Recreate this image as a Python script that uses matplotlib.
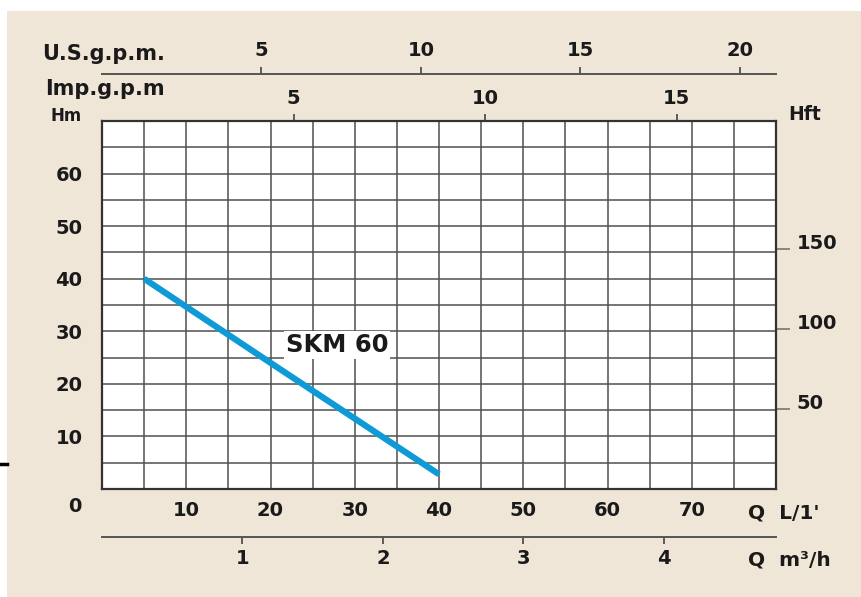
import matplotlib
matplotlib.use("Agg")
import matplotlib.pyplot as plt
from matplotlib.patches import Rectangle
from matplotlib.lines import Line2D
import numpy as np

# ---- data ----
flow_lpm = [5, 20, 30, 40]          # Q L/min
head_m = [40, 24.0, 13.4, 2.8]      # H m
curve_label = "SKM 60"

x_ticks = [10, 20, 30, 40, 50, 60, 70]
y_ticks = [10, 20, 30, 40, 50, 60]
us_gpm_ticks = [5, 10, 15, 20]
imp_gpm_ticks = [5, 10, 15]
m3h_ticks = [1, 2, 3, 4]
hft_ticks = [50, 100, 150]

US_GAL = 3.785
IMP_GAL = 4.546
M_TO_FT = 3.281

BG = "#F0E6D7"
INK = "#1a1a1a"
FONT = "DejaVu Sans"

fig = plt.figure(figsize=(8.61, 5.97), dpi=100)
fig.patch.set_facecolor("white")
fig.add_artist(Rectangle((7 / 861, 0), 1 - 7 / 861, 1 - 11 / 597,
                         transform=fig.transFigure, facecolor=BG,
                         edgecolor="none", zorder=-10))
# small black dash at left edge
fig.add_artist(Line2D([0, 7 / 861], [1 - 464 / 597] * 2, transform=fig.transFigure,
                      color="black", lw=2.5))

W, H = 861, 597
left, right, top, bottom = 102, 776, 121, 489
ax = fig.add_axes([left / W, 1 - bottom / H, (right - left) / W, (bottom - top) / H])
ax.set_facecolor("white")
ax.set_xlim(0, 80)
ax.set_ylim(0, 70)

ax.set_xticks(np.arange(0, 81, 5), minor=True)
ax.set_yticks(np.arange(0, 71, 5), minor=True)
ax.set_xticks(x_ticks)
ax.set_yticks(y_ticks)
ax.grid(True, which="both", color="#505050", lw=1.1)
ax.tick_params(which="both", length=0)
ax.tick_params(axis="x", pad=9, labelsize=14, labelcolor=INK)
ax.tick_params(axis="y", pad=14, labelsize=14, labelcolor=INK)
for lab in ax.get_xticklabels() + ax.get_yticklabels():
    lab.set_fontweight("bold")
    lab.set_family(FONT)
for s in ax.spines.values():
    s.set_color("#333333")
    s.set_linewidth(1.6)

ax.plot(flow_lpm, head_m, color="#0E9AD6", lw=4.5, solid_capstyle="butt", zorder=3)
ax.text(27.9, 27.4, curve_label, fontsize=17.5, fontweight="bold", family=FONT,
        color=INK, ha="center", va="center", zorder=4,
        bbox=dict(facecolor="white", edgecolor="none", pad=1.5))

# origin label
ax.text(-2.4, -3.4, "0", fontsize=14, fontweight="bold", family=FONT, color=INK,
        ha="right", va="center", clip_on=False)

axh = bottom - top
# Imp gpm axis (top of plot)
imp = ax.secondary_xaxis("top", functions=(lambda q: q / IMP_GAL, lambda g: g * IMP_GAL))
imp.set_xticks(imp_gpm_ticks)
imp.tick_params(length=5, width=1.2, color="#444444", pad=4, labelsize=14, labelcolor=INK)
for lab in imp.get_xticklabels():
    lab.set_fontweight("bold")
imp.spines["top"].set_visible(False)

# US gpm axis
us = ax.secondary_xaxis((bottom - 74) / axh,
                        functions=(lambda q: q / US_GAL, lambda g: g * US_GAL))
us.set_xticks(us_gpm_ticks)
us.tick_params(length=5, width=1.2, color="#444444", pad=5, labelsize=14, labelcolor=INK)
for lab in us.get_xticklabels():
    lab.set_fontweight("bold")
us.spines["top"].set_color("#555555")
us.spines["top"].set_linewidth(1.4)

# m3/h axis
m3 = ax.secondary_xaxis((bottom - 537) / axh,
                        functions=(lambda q: q * 60 / 1000, lambda v: v * 1000 / 60))
m3.set_xticks(m3h_ticks)
m3.tick_params(length=5, width=1.2, color="#444444", pad=4, labelsize=14, labelcolor=INK)
for lab in m3.get_xticklabels():
    lab.set_fontweight("bold")
m3.spines["bottom"].set_color("#555555")
m3.spines["bottom"].set_linewidth(1.4)

# Hft axis
hf = ax.secondary_yaxis("right", functions=(lambda m: m * M_TO_FT, lambda f: f / M_TO_FT))
hf.set_yticks(hft_ticks)
hf.tick_params(length=10, width=1.2, color="#777777", pad=5, labelsize=14, labelcolor=INK)
for lab in hf.get_yticklabels():
    lab.set_fontweight("bold")
    lab.set_verticalalignment("baseline")
hf.spines["right"].set_visible(False)

# axis titles
def ftext(x, y, s, size=14, ha="left"):
    fig.text(x / W, 1 - y / H, s, fontsize=size, fontweight="bold", family=FONT,
             color=INK, ha=ha, va="center")

ftext(42, 54, "U.S.g.p.m.", 15)
ftext(45, 89, "Imp.g.p.m", 15)
ftext(50, 116, "Hm", 12)
ftext(788, 115, "Hft", 13.5)
ftext(748, 513, "Q  L/1'", 14.5)
ftext(748, 560, "Q  m³/h", 14.5)

fig.savefig("out.png", dpi=100, facecolor=fig.get_facecolor())
